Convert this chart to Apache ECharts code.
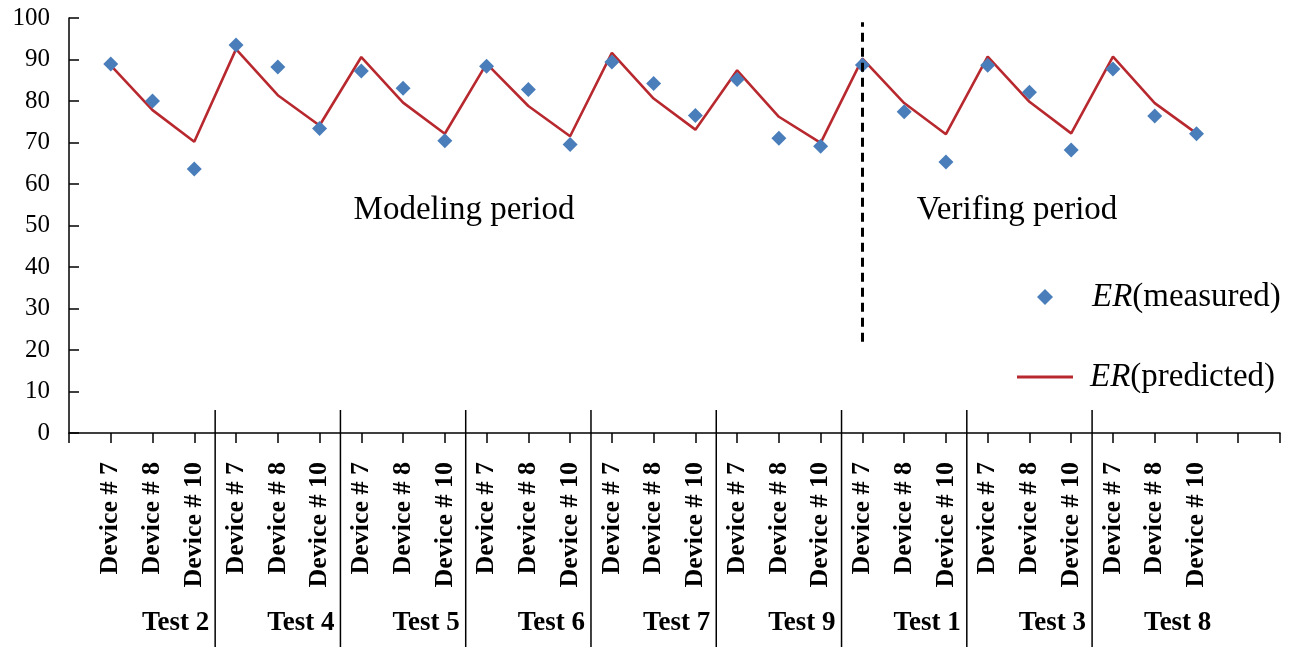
<!DOCTYPE html>
<html>
<head>
<meta charset="utf-8">
<script src="https://cdn.jsdelivr.net/npm/echarts@6/dist/echarts.min.js"></script>
<style>
html,body{margin:0;padding:0;background:#fff;}
#main{width:1301px;height:647px;}
</style>
</head>
<body>
<div id="main"></div>
<script>
// ---- data ----
const tests = ['Test 2','Test 4','Test 5','Test 6','Test 7','Test 9','Test 1','Test 3','Test 8'];
const devices = ['Device # 7','Device # 8','Device # 10'];
const measured = [88.9, 80.0, 63.6, 93.5, 88.2, 73.4, 87.2, 83.1, 70.4,
                  88.4, 82.8, 69.5, 89.4, 84.2, 76.5, 85.2, 71.0, 69.1,
                  88.7, 77.4, 65.3, 88.6, 82.1, 68.2, 87.7, 76.4, 72.1];
const predicted = [88.6, 77.8, 70.2, 92.5, 81.4, 74.1, 90.6, 79.6, 72.1,
                   89.0, 78.8, 71.5, 91.6, 80.6, 73.1, 87.4, 76.2, 69.9,
                   90.2, 79.5, 72.0, 90.7, 79.8, 72.2, 90.7, 79.5, 72.2];
const yTicks = [0,10,20,30,40,50,60,70,80,90,100];
const verifyStartIndex = 18;   // first point of verifying period (Test 1, Device # 7)
const dashedRange = [22, 99];

// ---- derived ----
const categories = [''];
tests.forEach(() => devices.forEach(d => categories.push(d)));
categories.push('', '');
const measData = categories.map((c, i) => (i >= 1 && i <= measured.length) ? measured[i-1] : null);
const predData = categories.map((c, i) => (i >= 1 && i <= predicted.length) ? predicted[i-1] : null);

const serif = 'Liberation Serif';
const blue = '#4A7EBB';
const red = '#B8292F';
const chart = echarts.init(document.getElementById('main'));

const legendText = {
  fontFamily: serif, fontSize: 33, color: '#000', lineHeight: 36,
  rich: { i: { fontFamily: serif, fontSize: 33, fontStyle: 'italic', color: '#000' } }
};

const option = {
  animation: false,
  backgroundColor: '#fff',
  grid: { left: 69, right: 21, top: 18, bottom: 214 },
  legend: [
    {
      left: 1032, top: 274,
      itemWidth: 16, itemHeight: 16,
      data: [{ name: 'ER(measured)', icon: 'diamond' }],
      formatter: n => '{i|ER}' + n.slice(2),
      textStyle: Object.assign({ padding: [0, 0, 0, 34] }, legendText)
    },
    {
      left: 1012, top: 354,
      itemWidth: 56, itemHeight: 3,
      data: [{ name: 'ER(predicted)', icon: 'rect' }],
      formatter: n => '{i|ER}' + n.slice(2),
      textStyle: Object.assign({ padding: [0, 0, 0, 12] }, legendText)
    }
  ],
  xAxis: {
    type: 'category',
    data: categories,
    boundaryGap: false,
    axisLine: { lineStyle: { color: '#000', width: 1.5 } },
    axisTick: { show: true, interval: 0, length: 10, lineStyle: { color: '#000', width: 1.5 } },
    axisLabel: {
      interval: 0, rotate: 90, margin: 29,
      fontFamily: serif, fontWeight: 'bold', fontSize: 26, color: '#000'
    },
    splitLine: { show: false }
  },
  yAxis: {
    type: 'value',
    min: yTicks[0], max: yTicks[yTicks.length-1], interval: 10,
    axisLine: { show: true, lineStyle: { color: '#000', width: 1.5 } },
    axisTick: { show: true, inside: true, length: 10, lineStyle: { color: '#000', width: 1.5 } },
    axisLabel: { margin: 19, fontFamily: serif, fontSize: 25, color: '#000' },
    splitLine: { show: false }
  },
  series: [
    {
      name: 'ER(predicted)',
      type: 'line',
      data: predData,
      symbol: 'none',
      connectNulls: false,
      lineStyle: { color: red, width: 2.6 },
      itemStyle: { color: red },
      z: 2
    },
    {
      name: 'ER(measured)',
      type: 'scatter',
      data: measData,
      symbol: 'diamond',
      symbolSize: 15,
      itemStyle: { color: blue, opacity: 1 },
      z: 3,
      markLine: {
        silent: true,
        symbol: 'none',
        label: { show: false },
        lineStyle: { color: '#000', type: [9, 6], width: 3 },
        data: [[{ coord: [verifyStartIndex + 1, dashedRange[0]] }, { coord: [verifyStartIndex + 1, dashedRange[1]] }]]
      }
    }
  ]
};
chart.setOption(option);

// separators & group labels derived from axis positions
function px(idx) { return chart.convertToPixel({ xAxisIndex: 0 }, idx); }
const y0 = chart.convertToPixel({ yAxisIndex: 0 }, 0);
const g = [];
tests.forEach((t, k) => {
  const last = (k + 1) * devices.length;
  const sepX = (px(last) + px(last + 1)) / 2;
  if (k < tests.length - 1) {
    g.push({ type: 'line', shape: { x1: sepX, y1: y0 - 23, x2: sepX, y2: 647 },
             style: { stroke: '#000', lineWidth: 1.5 }, silent: true });
  }
  g.push({ type: 'text', x: sepX - 6, y: 623,
           style: { text: t, fontFamily: serif, fontWeight: 'bold', fontSize: 27, fill: '#000',
                    align: 'right', verticalAlign: 'middle' }, silent: true });
});
g.push({ type: 'text', x: 464, y: 210,
         style: { text: 'Modeling period', fontFamily: serif, fontSize: 33, fill: '#000', align: 'center', verticalAlign: 'middle' } });
g.push({ type: 'text', x: 1017, y: 210,
         style: { text: 'Verifing period', fontFamily: serif, fontSize: 33, fill: '#000', align: 'center', verticalAlign: 'middle' } });
chart.setOption({ graphic: g });
</script>
</body>
</html>
